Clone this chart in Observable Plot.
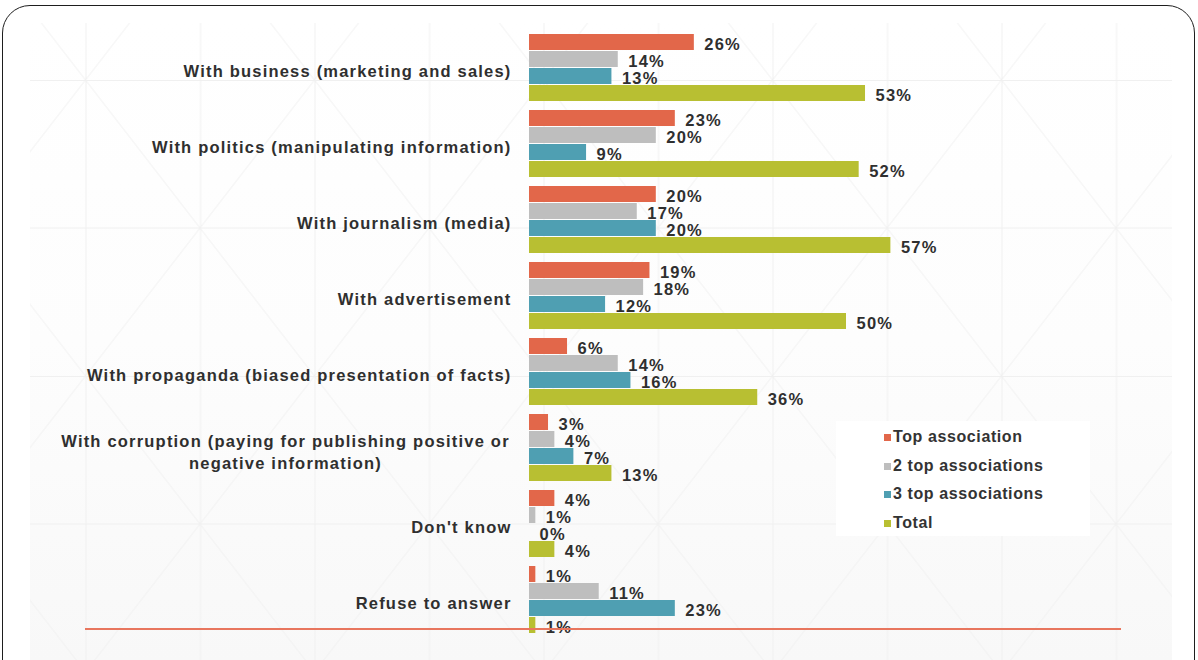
<!DOCTYPE html>
<html>
<head>
<meta charset="utf-8">
<script src="https://cdn.jsdelivr.net/npm/d3@7"></script>
<script src="https://cdn.jsdelivr.net/npm/@observablehq/plot@0.6"></script>
<style>
  html, body { margin: 0; padding: 0; background: #ffffff; }
  #stage { position: relative; width: 1198px; height: 660px; overflow: hidden;
           font-family: "Liberation Sans", Arial, sans-serif; }
  #frame { position: absolute; left: 2px; top: 5px; width: 1191px; height: 720px;
           border: 1.5px solid #1e1e1e; border-radius: 28px; background: #ffffff; }
  #lattice { position: absolute; left: 0; top: 0; }
  #chart { position: absolute; left: 0; top: 0; }
  #chart svg text { letter-spacing: 1.2px; }
  #baseline { position: absolute; left: 85px; top: 628px; width: 1036px; height: 2px;
              background: #e8765e; }
  #legend { position: absolute; left: 836px; top: 421px; width: 254px; height: 115px;
            background: #ffffff; }
  .item { position: absolute; left: 48px; font-weight: bold; font-size: 16px; color: #333333;
          letter-spacing: 0.6px; line-height: 18px; white-space: nowrap; }
  .swatch { display: inline-block; width: 7px; height: 7px; margin-right: 2px; vertical-align: 1px; }
</style>
</head>
<body>
<div id="stage">
  <div id="frame"></div>
  <svg id="lattice" width="1198" height="660">
    <defs>
      <linearGradient id="shade" x1="0" y1="0" x2="0" y2="1">
        <stop offset="0" stop-color="#ffffff"/>
        <stop offset="0.5" stop-color="#fdfdfd"/>
        <stop offset="1" stop-color="#f8f8f8"/>
      </linearGradient>
      <pattern id="diamonds" patternUnits="userSpaceOnUse" x="85.5" y="80" width="229" height="296">
        <path d="M0.5,0V296M115,0V296M0,0.5H229M0,148H229M0,0L229,296M229,0L0,296"
              fill="none" stroke="#f0f0f0" stroke-width="1"/>
      </pattern>
    </defs>
    <rect x="30" y="23" width="1142" height="637" fill="url(#shade)"/>
    <rect x="30" y="23" width="1142" height="637" fill="url(#diamonds)"/>
  </svg>
  <div id="chart"></div>
  <div id="baseline"></div>
  <div id="legend"></div>
</div>
<script>
// Survey answers: what the respondents associate the term with
const categories = [
  "With business (marketing and sales)",
  "With politics (manipulating information)",
  "With journalism (media)",
  "With advertisement",
  "With propaganda (biased presentation of facts)",
  "With corruption (paying for publishing positive or\nnegative information)",
  "Don't know",
  "Refuse to answer"
];
const series = ["Top association", "2 top associations", "3 top associations", "Total"];
const colors = ["#e2674a", "#bebebe", "#4f9fb2", "#b8bf32"];

// Percent of respondents, one array per series (same order as categories)
const topAssociation   = [26, 23, 20, 19, 6, 3, 4, 1];
const twoTopAssoc      = [14, 20, 17, 18, 14, 4, 1, 11];
const threeTopAssoc    = [13, 9, 20, 12, 16, 7, 0, 23];
const totalAssoc       = [53, 52, 57, 50, 36, 13, 4, 1];

const valuesBySeries = [topAssociation, twoTopAssoc, threeTopAssoc, totalAssoc];
const rows = categories.flatMap((category, i) =>
  series.map((s, k) => ({category, series: s, value: valuesBySeries[k][i]}))
);

const labelFont = {fontWeight: "bold", fontSize: 16.5, fill: "#2f2f2f"};
const isTwoLine = c => c.includes("\n");

const chart = Plot.plot({
  width: 1198,
  height: 660,
  marginLeft: 529,
  marginRight: 35,
  marginTop: 32,
  marginBottom: 24,
  style: {background: "transparent", fontFamily: "'Liberation Sans', Arial, sans-serif"},
  x: {domain: [0, 100], axis: null},
  y: {domain: series, paddingInner: 0.08, paddingOuter: 0, axis: null},
  fy: {domain: categories, paddingInner: 0.112, paddingOuter: 0, axis: null},
  color: {domain: series, range: colors},
  marks: [
    Plot.barX(rows, {x: "value", y: "series", fy: "category", fill: "series"}),
    Plot.text(rows, {
      x: "value", y: "series", fy: "category",
      text: d => `${d.value}%`, textAnchor: "start", dx: 10, dy: 2, ...labelFont
    }),
    // category names to the left of each group
    Plot.text(categories.filter(c => !isTwoLine(c)), {
      fy: d => d, text: d => d, frameAnchor: "left", textAnchor: "end", dx: -18, dy: 4, ...labelFont
    }),
    Plot.text(categories.filter(isTwoLine), {
      fy: d => d, text: d => d, frameAnchor: "left", textAnchor: "middle", dx: -244, dy: 3,
      lineHeight: 1.35, ...labelFont
    })
  ]
});
document.getElementById("chart").appendChild(chart);

// legend box
const legend = document.getElementById("legend");
series.forEach((s, k) => {
  const item = document.createElement("div");
  item.className = "item";
  item.style.top = `${7 + k * 28.7}px`;
  item.innerHTML = `<span class="swatch" style="background:${colors[k]}"></span>${s}`;
  legend.appendChild(item);
});
</script>
</body>
</html>
